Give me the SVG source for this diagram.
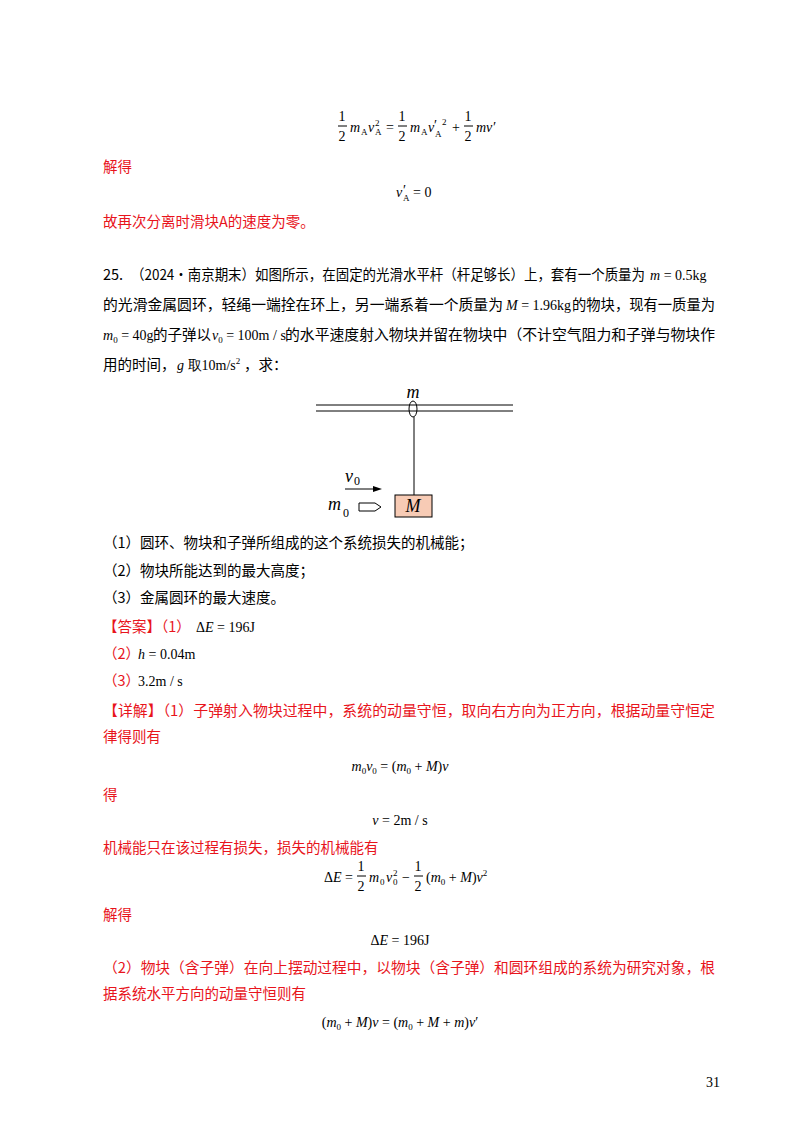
<svg xmlns="http://www.w3.org/2000/svg" width="800" height="1132" viewBox="0 0 800 1132">
<style>
.t{font-family:"Noto Sans CJK SC",sans-serif;font-size:14.5px;fill:#000}
.r{fill:#e8141c}
.m{font-family:"Liberation Serif",serif;font-size:14px;fill:#000}
.i{font-style:italic}
.s{font-size:9px}
.big{font-size:18px}
.sub{font-size:12px;font-style:normal}
.ln{stroke:#000;stroke-width:1}
</style>
<rect width="800" height="1132" fill="#fff"/>
<g id="eq1" class="m">
<text x="342" y="121" text-anchor="middle">1</text><line class="ln" x1="338" y1="126" x2="347" y2="126"/><text x="342" y="141" text-anchor="middle">2</text>
<text x="350" y="132" class="i">m</text><text x="361" y="135" class="s">A</text><text x="368" y="132" class="i">v</text><text x="375" y="126" class="s">2</text><text x="375" y="135" class="s">A</text><text x="386" y="132">=</text>
<text x="402" y="121" text-anchor="middle">1</text><line class="ln" x1="398" y1="126" x2="407" y2="126"/><text x="402" y="141" text-anchor="middle">2</text>
<text x="410" y="132" class="i">m</text><text x="421" y="135" class="s">A</text><text x="428" y="132" class="i">v</text><text x="434" y="130">′</text><text x="435" y="137" class="s">A</text><text x="442" y="125" class="s">2</text><text x="452" y="132">+</text>
<text x="468" y="121" text-anchor="middle">1</text><line class="ln" x1="464" y1="126" x2="473" y2="126"/><text x="468" y="141" text-anchor="middle">2</text>
<text x="476" y="132" class="i">mv′</text>
</g>
<text x="103" y="172" class="t r">解得</text>
<g class="m"><text x="396" y="197" class="i">v</text><text x="403" y="195">′</text><text x="403" y="201" class="s">A</text><text x="413" y="197">= 0</text></g>
<text x="103" y="227" class="t r">故再次分离时滑块A的速度为零。</text>

<text x="103" y="280" class="t">25.</text>
<text x="131" y="280" class="t" textLength="514" lengthAdjust="spacingAndGlyphs">（2024·南京期末）如图所示，在固定的光滑水平杆（杆足够长）上，套有一个质量为</text>
<text x="650" y="280" class="m"><tspan class="i">m</tspan> = 0.5kg</text>
<text x="103" y="310" class="t" textLength="400" lengthAdjust="spacingAndGlyphs">的光滑金属圆环，轻绳一端拴在环上，另一端系着一个质量为</text>
<text x="506" y="310" class="m"><tspan class="i">M</tspan> = 1.96kg</text>
<text x="572" y="310" class="t" textLength="143" lengthAdjust="spacingAndGlyphs">的物块，现有一质量为</text>
<text x="103" y="340" class="m"><tspan class="i">m</tspan><tspan class="s" dy="3">0</tspan><tspan dy="-3"> = 40g</tspan></text>
<text x="153" y="340" class="t">的子弹以</text>
<text x="212" y="340" class="m"><tspan class="i">v</tspan><tspan class="s" dy="3">0</tspan><tspan dy="-3"> = 100m / s</tspan></text>
<text x="285" y="340" class="t" textLength="430" lengthAdjust="spacingAndGlyphs">的水平速度射入物块并留在物块中（不计空气阻力和子弹与物块作</text>
<text x="103" y="370" class="t">用的时间，</text>
<text x="177" y="370" class="m"><tspan class="i">g</tspan> 取10m/s<tspan class="s" dy="-6">2</tspan></text>
<text x="244" y="370" class="t">，求：</text>

<g id="figure">
<line class="ln" x1="316" y1="405" x2="513" y2="405"/>
<line class="ln" x1="316" y1="411" x2="513" y2="411"/>
<ellipse cx="413" cy="409" rx="4" ry="8" fill="none" stroke="#000" stroke-width="1"/>
<line class="ln" x1="414" y1="417" x2="414" y2="495"/>
<text x="413" y="398" class="m i big" text-anchor="middle">m</text>
<rect x="395" y="495" width="37" height="22" fill="#f7cbb5" stroke="#000" stroke-width="1"/>
<text x="413" y="512" class="m i big" text-anchor="middle">M</text>
<text x="345" y="482" class="m i big">v</text><text x="354" y="485" class="m sub">0</text>
<line class="ln" x1="345" y1="489" x2="376" y2="489" stroke-width="1.3"/>
<polygon points="382,489 373,486 373,492" fill="#000"/>
<text x="328" y="510" class="m i big">m</text><text x="343" y="517" class="m sub">0</text>
<path d="M359,503 H375 L381,507 L375,511 H359 Z" fill="#fff" stroke="#000"/>
</g>

<text x="103" y="548" class="t">（1）圆环、物块和子弹所组成的这个系统损失的机械能；</text>
<text x="103" y="576" class="t">（2）物块所能达到的最大高度；</text>
<text x="103" y="603" class="t">（3）金属圆环的最大速度。</text>
<text x="103" y="632" class="t r">【答案】（1）</text>
<text x="196" y="632" class="m">Δ<tspan class="i">E</tspan> = 196J</text>
<text x="103" y="659" class="t r">（2）</text>
<text x="138" y="659" class="m"><tspan class="i">h</tspan> = 0.04m</text>
<text x="103" y="686" class="t r">（3）</text>
<text x="138" y="686" class="m">3.2m / s</text>
<text x="103" y="716" class="t r" textLength="612" lengthAdjust="spacingAndGlyphs">【详解】（1）子弹射入物块过程中，系统的动量守恒，取向右方向为正方向，根据动量守恒定</text>
<text x="103" y="742" class="t r">律得则有</text>
<text x="400" y="771" class="m" text-anchor="middle"><tspan class="i">m</tspan><tspan class="s" dy="3">0</tspan><tspan class="i" dy="-3">v</tspan><tspan class="s" dy="3">0</tspan><tspan dy="-3"> = (</tspan><tspan class="i">m</tspan><tspan class="s" dy="3">0</tspan><tspan dy="-3"> + </tspan><tspan class="i">M</tspan>)<tspan class="i">v</tspan></text>
<text x="103" y="800" class="t r">得</text>
<text x="400" y="825" class="m" text-anchor="middle"><tspan class="i">v</tspan> = 2m / s</text>
<text x="103" y="853" class="t r">机械能只在该过程有损失，损失的机械能有</text>
<g id="eq2" class="m">
<text x="324" y="882">Δ<tspan class="i">E</tspan> =</text>
<text x="361" y="871" text-anchor="middle">1</text><line class="ln" x1="357" y1="876" x2="366" y2="876"/><text x="361" y="891" text-anchor="middle">2</text>
<text x="369" y="882" class="i">m</text><text x="380" y="885" class="s">0</text><text x="386" y="882" class="i">v</text><text x="393" y="876" class="s">2</text><text x="393" y="885" class="s">0</text><text x="402" y="882">−</text>
<text x="418" y="871" text-anchor="middle">1</text><line class="ln" x1="414" y1="876" x2="423" y2="876"/><text x="418" y="891" text-anchor="middle">2</text>
<text x="426" y="882">(<tspan class="i">m</tspan><tspan class="s" dy="3">0</tspan><tspan dy="-3"> + </tspan><tspan class="i">M</tspan>)<tspan class="i">v</tspan><tspan class="s" dy="-6">2</tspan></text>
</g>
<text x="103" y="920" class="t r">解得</text>
<text x="400" y="945" class="m" text-anchor="middle">Δ<tspan class="i">E</tspan> = 196J</text>
<text x="103" y="973" class="t r" textLength="612" lengthAdjust="spacingAndGlyphs">（2）物块（含子弹）在向上摆动过程中，以物块（含子弹）和圆环组成的系统为研究对象，根</text>
<text x="103" y="999" class="t r">据系统水平方向的动量守恒则有</text>
<text x="400" y="1027" class="m" text-anchor="middle">(<tspan class="i">m</tspan><tspan class="s" dy="3">0</tspan><tspan dy="-3"> + </tspan><tspan class="i">M</tspan>)<tspan class="i">v</tspan> = (<tspan class="i">m</tspan><tspan class="s" dy="3">0</tspan><tspan dy="-3"> + </tspan><tspan class="i">M</tspan> + <tspan class="i">m</tspan>)<tspan class="i">v</tspan>′</text>
<text x="706" y="1087" class="m">31</text>
</svg>
